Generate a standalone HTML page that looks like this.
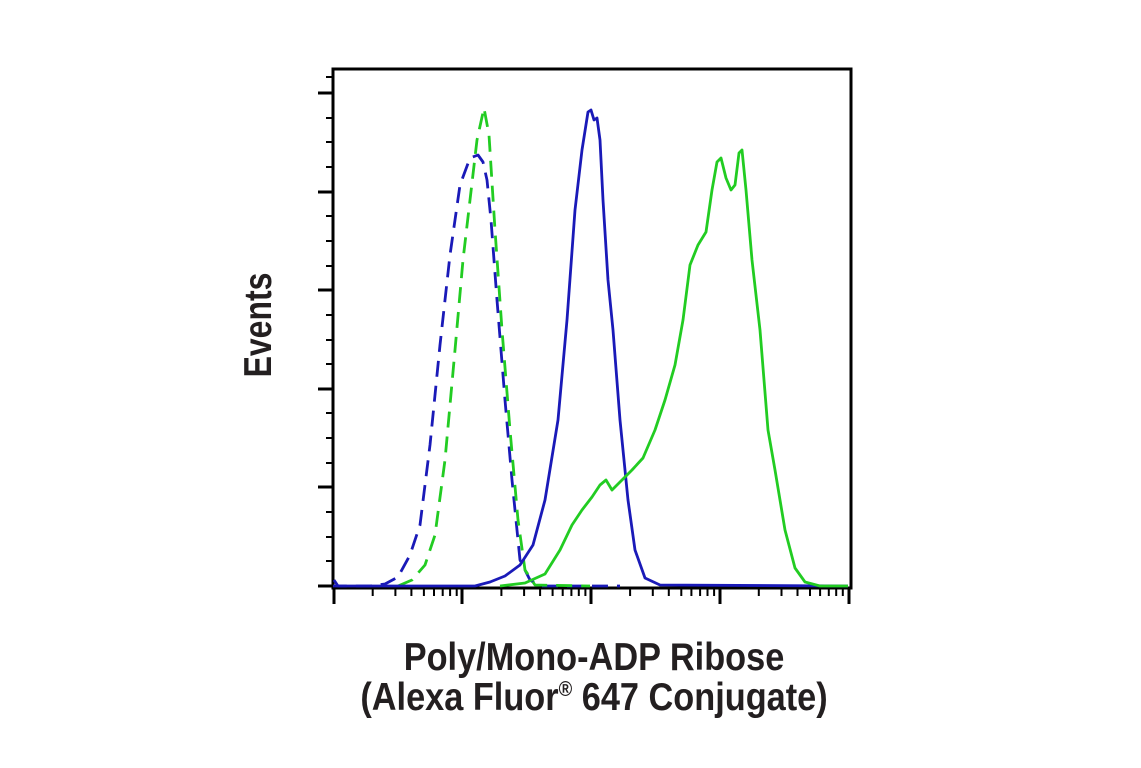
<!DOCTYPE html>
<html><head><meta charset="utf-8"><style>
html,body{margin:0;padding:0;background:#fff;}
svg{display:block;}
text{font-family:"Liberation Sans Narrow","Liberation Sans",sans-serif;font-weight:bold;fill:#231f20;}
</style></head><body>
<svg width="1141" height="768" viewBox="0 0 1141 768" xmlns="http://www.w3.org/2000/svg">
<g stroke="#000" fill="none">
<rect x="333" y="69" width="518" height="519" stroke-width="3"/>
<g stroke-width="3">
<line x1="318" y1="93" x2="333" y2="93"/><line x1="318" y1="192" x2="333" y2="192"/>
<line x1="318" y1="290" x2="333" y2="290"/><line x1="318" y1="389" x2="333" y2="389"/>
<line x1="318" y1="487" x2="333" y2="487"/><line x1="318" y1="586" x2="333" y2="586"/>
</g>
<g stroke-width="2">
<line x1="326" y1="118" x2="333" y2="118"/><line x1="326" y1="142" x2="333" y2="142"/><line x1="326" y1="167" x2="333" y2="167"/>
<line x1="326" y1="216" x2="333" y2="216"/><line x1="326" y1="241" x2="333" y2="241"/><line x1="326" y1="266" x2="333" y2="266"/>
<line x1="326" y1="315" x2="333" y2="315"/><line x1="326" y1="340" x2="333" y2="340"/><line x1="326" y1="364" x2="333" y2="364"/>
<line x1="326" y1="413" x2="333" y2="413"/><line x1="326" y1="438" x2="333" y2="438"/><line x1="326" y1="463" x2="333" y2="463"/>
<line x1="326" y1="512" x2="333" y2="512"/><line x1="326" y1="537" x2="333" y2="537"/><line x1="326" y1="561" x2="333" y2="561"/>
<line x1="326" y1="77" x2="333" y2="77"/>
</g>
<g stroke-width="3">
<line x1="334" y1="588" x2="334" y2="604"/><line x1="462" y1="588" x2="462" y2="604"/>
<line x1="591" y1="588" x2="591" y2="604"/><line x1="720" y1="588" x2="720" y2="604"/>
<line x1="849" y1="588" x2="849" y2="604"/>
</g>
<g stroke-width="2">
<path d="M372.7 588v8M395.4 588v8M411.4 588v8M423.9 588v8M434 588v8M442.7 588v8M450.1 588v8M456.7 588v8"/>
<path transform="translate(128.7 0)" d="M372.7 588v8M395.4 588v8M411.4 588v8M423.9 588v8M434 588v8M442.7 588v8M450.1 588v8M456.7 588v8"/>
<path transform="translate(257.4 0)" d="M372.7 588v8M395.4 588v8M411.4 588v8M423.9 588v8M434 588v8M442.7 588v8M450.1 588v8M456.7 588v8"/>
<path transform="translate(386.1 0)" d="M372.7 588v8M395.4 588v8M411.4 588v8M423.9 588v8M434 588v8M442.7 588v8M450.1 588v8M456.7 588v8"/>
</g>
</g>
<g fill="none" stroke-width="2.8" stroke-linejoin="round">
<polyline stroke="#1a1ab8" stroke-dasharray="16,9" points="334,580 338,586 370,586 385,584 398,577 410,555 420,525 430,445 440,345 450,255 460,185 470,158 478,155 483,162 487,180 491,220 497,300 505,400 512,480 520,560 530,580 540,586 620,586"/>
<polyline stroke="#22cc22" stroke-dasharray="16,9" points="398,586 412,580 425,565 435,535 445,460 455,350 463,260 470,200 477,140 484,108 489,135 495,230 502,330 510,430 518,520 525,570 535,585 590,586"/>
<polyline stroke="#1a1ab8" points="333,586 475,586 490,582 505,576 520,565 533,545 545,500 558,420 567,320 575,210 582,150 588,112 591,110 594,120 597,118 600,140 603,200 608,280 613,330 620,420 628,500 635,550 645,578 660,585 848,586"/>
<polyline stroke="#22cc22" points="500,586 525,583 545,574 560,550 572,525 582,510 592,497 600,485 606,480 612,490 620,482 632,470 643,458 655,430 665,400 675,365 683,320 690,265 698,245 706,232 712,190 717,162 721,158 726,178 731,190 735,185 739,153 742,150 746,190 752,260 760,330 768,430 775,470 785,530 795,568 805,582 820,586 848,586"/>
</g>
<g transform="translate(271 325) rotate(-90) scale(0.82 1)">
<text x="0" y="0" font-size="39" text-anchor="middle">Events</text>
</g>
<g transform="translate(594 670) scale(0.88 1)">
<text x="0" y="0" font-size="39" text-anchor="middle">Poly/Mono-ADP Ribose</text>
<text x="0" y="40" font-size="39" text-anchor="middle">(Alexa Fluor<tspan font-size="21" dy="-14">®</tspan><tspan dy="14"> 647 Conjugate)</tspan></text>
</g>
</svg>
</body></html>
